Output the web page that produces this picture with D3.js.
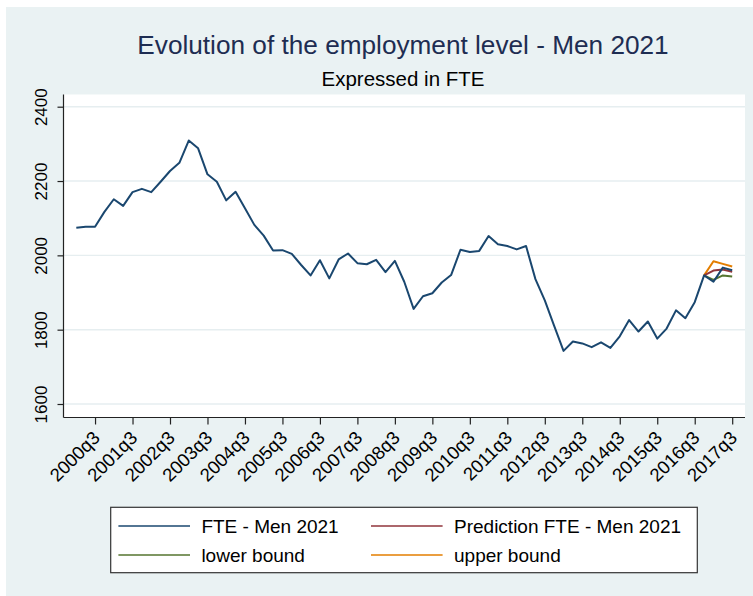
<!DOCTYPE html>
<html><head><meta charset="utf-8">
<script src="https://cdn.jsdelivr.net/npm/d3@7"></script>
<style>
body{margin:0;background:#fff;}
text{font-family:"Liberation Sans",Arial,sans-serif;}
</style>
</head><body>
<svg id="chart" width="753" height="596"></svg>
<script>
const quarters = [
"2000q1","2000q2","2000q3","2000q4","2001q1","2001q2","2001q3","2001q4",
"2002q1","2002q2","2002q3","2002q4","2003q1","2003q2","2003q3","2003q4",
"2004q1","2004q2","2004q3","2004q4","2005q1","2005q2","2005q3","2005q4",
"2006q1","2006q2","2006q3","2006q4","2007q1","2007q2","2007q3","2007q4",
"2008q1","2008q2","2008q3","2008q4","2009q1","2009q2","2009q3","2009q4",
"2010q1","2010q2","2010q3","2010q4","2011q1","2011q2","2011q3","2011q4",
"2012q1","2012q2","2012q3","2012q4","2013q1","2013q2","2013q3","2013q4",
"2014q1","2014q2","2014q3","2014q4","2015q1","2015q2","2015q3","2015q4",
"2016q1","2016q2","2016q3","2016q4","2017q1","2017q2","2017q3"];
const fte = [
2074,2077,2077,2117,2151,2133,2170,2179,2170,2198,
2227,2249,2309,2288,2218,2198,2148,2171,2127,2082,
2053,2013,2014,2004,1974,1946,1987,1938,1989,2005,
1979,1976,1988,1955,1985,1929,1856,1890,1898,1927,
1947,2015,2009,2012,2052,2030,2025,2016,2025,1936,
1879,1810,1743,1768,1763,1753,1766,1751,1782,1826,
1795,1822,1776,1803,1852,1831,1874,1946,1929,1967,1960];
const forecastQuarters = ["2016q4","2017q1","2017q2","2017q3"];
const prediction = [1946,1959,1962,1956];
const lowerBound = [1946,1934,1946,1943];
const upperBound = [1946,1984,1977,1970];
const xTickLabels = ["2000q3","2001q3","2002q3","2003q3","2004q3","2005q3","2006q3","2007q3","2008q3","2009q3","2010q3","2011q3","2012q3","2013q3","2014q3","2015q3","2016q3","2017q3"];
const yTicks = [1600,1800,2000,2200,2400];
const legendLabels = ["FTE - Men 2021","Prediction FTE - Men 2021","lower bound","upper bound"];

const colors = {fte:"#1a476f", pred:"#90353b", lower:"#55752f", upper:"#e37e00"};

const svg = d3.select("#chart");
svg.append("rect").attr("x",6).attr("y",7).attr("width",747).attr("height",589).attr("fill","#eaf2f3");

const plot = {left:63.5, right:745, top:94.5, bottom:417.5};
svg.append("rect").attr("x",plot.left).attr("y",plot.top)
  .attr("width",plot.right-plot.left).attr("height",plot.bottom-plot.top).attr("fill","#fff");

const x = d3.scalePoint().domain(quarters).range([76.3,732.2]);
const y = d3.scaleLinear().domain([1600,2400]).range([404,106.7]);

svg.append("g").selectAll("line").data(yTicks).join("line")
  .attr("x1",plot.left).attr("x2",plot.right)
  .attr("y1",d=>y(d)).attr("y2",d=>y(d))
  .attr("stroke","#e6eef0").attr("stroke-width",1.4);

const axisColor = "#222";
const yAxis = svg.append("g").attr("transform",`translate(${plot.left},0)`)
  .call(d3.axisLeft(y).tickValues(yTicks).tickSize(6).tickSizeOuter(0).tickFormat(d3.format("d")));
yAxis.select(".domain").remove();
yAxis.append("line").attr("x1",0).attr("x2",0).attr("y1",plot.top).attr("y2",plot.bottom).attr("stroke",axisColor).attr("stroke-width",1.2);
yAxis.selectAll(".tick line").attr("stroke",axisColor).attr("stroke-width",1.2);
yAxis.selectAll(".tick text")
  .attr("font-size",17).attr("fill","#000")
  .attr("text-anchor","middle").attr("x",0).attr("y",0).attr("dy",null)
  .attr("transform","translate(-17,0) rotate(-90)");

const xAxis = svg.append("g").attr("transform",`translate(0,${plot.bottom})`)
  .call(d3.axisBottom(x).tickValues(xTickLabels).tickSize(7).tickSizeOuter(0));
xAxis.select(".domain").remove();
xAxis.append("line").attr("x1",plot.left).attr("x2",plot.right).attr("y1",0).attr("y2",0).attr("stroke",axisColor).attr("stroke-width",1.2);
xAxis.selectAll(".tick line").attr("stroke",axisColor).attr("stroke-width",1.2);
xAxis.selectAll(".tick text")
  .attr("font-size",18.5).attr("fill","#000")
  .attr("text-anchor","end").attr("x",0).attr("y",0).attr("dy","0.35em")
  .attr("transform","translate(1,17) rotate(-45)");

const lineGen = d3.line().x(d=>x(d[0])).y(d=>y(d[1]));
function drawSeries(qs, vals, color){
  svg.append("path").datum(qs.map((q,i)=>[q,vals[i]]))
    .attr("d",lineGen).attr("fill","none").attr("stroke",color)
    .attr("stroke-width",2).attr("stroke-linejoin","round");
}
drawSeries(forecastQuarters, upperBound, colors.upper);
drawSeries(forecastQuarters, lowerBound, colors.lower);
drawSeries(forecastQuarters, prediction, colors.pred);
drawSeries(quarters, fte, colors.fte);

svg.append("text").attr("x",403).attr("y",54).attr("text-anchor","middle")
  .attr("font-size",26.2).attr("fill","#1e2d52").text("Evolution of the employment level - Men 2021");
svg.append("text").attr("x",403).attr("y",86).attr("text-anchor","middle")
  .attr("font-size",20.5).attr("fill","#000").text("Expressed in FTE");

svg.append("rect").attr("x",110.7).attr("y",507.3).attr("width",586.6).attr("height",65.4)
  .attr("fill","#fff").attr("stroke","#333").attr("stroke-width",1.2);
const legendItems = [
  {label:legendLabels[0], color:colors.fte, lx:118.4, tx:201.4, ly:526},
  {label:legendLabels[1], color:colors.pred, lx:371, tx:454, ly:526},
  {label:legendLabels[2], color:colors.lower, lx:118.4, tx:201.4, ly:555},
  {label:legendLabels[3], color:colors.upper, lx:371, tx:454, ly:555}
];
const lg = svg.append("g");
lg.selectAll("line").data(legendItems).join("line")
  .attr("x1",d=>d.lx).attr("x2",d=>d.lx+71.6).attr("y1",d=>d.ly).attr("y2",d=>d.ly)
  .attr("stroke",d=>d.color).attr("stroke-width",1.6);
lg.selectAll("text").data(legendItems).join("text")
  .attr("x",d=>d.tx).attr("y",d=>d.ly+7.3).attr("font-size",19).attr("fill","#000")
  .text(d=>d.label);
</script>
</body></html>
